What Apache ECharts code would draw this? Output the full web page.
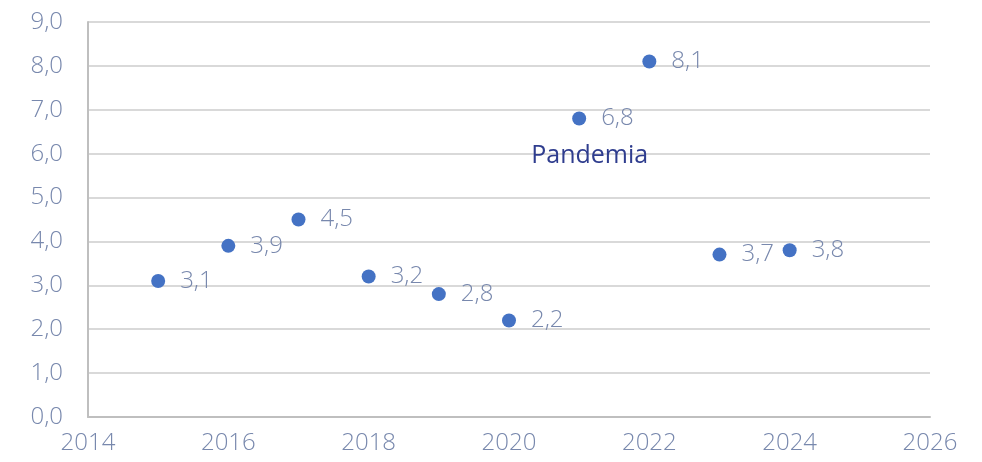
<!DOCTYPE html>
<html><head><meta charset="utf-8">
<script src="https://cdn.jsdelivr.net/npm/echarts@6/dist/echarts.min.js"></script>
<style>html,body{margin:0;padding:0;background:#fff}#c{width:982px;height:462px}</style>
</head><body><div id="c"></div>
<script>
const years = [2015, 2016, 2017, 2018, 2019, 2020, 2021, 2022, 2023, 2024];
const values = [3.1, 3.9, 4.5, 3.2, 2.8, 2.2, 6.8, 8.1, 3.7, 3.8];
const annotationText = 'Pandemia';
const annotationCoord = [2021.15, 5.95];

const fmt = v => v.toFixed(1).replace('.', ',');
const txt = '#7888ad';
const font = 'Open Sans';
const fw = 300;

const chart = echarts.init(document.getElementById('c'));
chart.setOption({
  animation: false,
  grid: { left: 88, right: 52, top: 22, bottom: 45 },
  xAxis: {
    type: 'value', min: 2014, max: 2026, interval: 2,
    axisLine: { show: true, lineStyle: { color: '#bfbfbf', width: 2 } },
    axisTick: { show: false },
    splitLine: { show: false },
    axisLabel: { color: txt, fontSize: 24, fontFamily: font, fontWeight: fw, margin: 14, formatter: v => String(v) }
  },
  yAxis: {
    type: 'value', min: 0, max: 9, interval: 1,
    axisLine: { show: true, lineStyle: { color: '#bfbfbf', width: 2 } },
    axisTick: { show: false },
    splitLine: { show: true, lineStyle: { color: '#d9d9d9', width: 2 } },
    axisLabel: { color: txt, fontSize: 24, fontFamily: font, fontWeight: fw, margin: 25, formatter: v => fmt(v) }
  },
  series: [{
    type: 'scatter',
    data: years.map((y, i) => [y, values[i]]),
    symbolSize: 14,
    itemStyle: { color: '#4472c4', opacity: 1 },
    label: {
      show: true, position: 'right', distance: 15,
      color: txt, fontSize: 24, fontFamily: font, fontWeight: fw,
      formatter: p => fmt(p.value[1])
    },
    markPoint: {
      symbol: 'circle', symbolSize: 0,
      data: [{ coord: annotationCoord, value: annotationText }],
      label: { show: true, position: 'inside', formatter: annotationText, color: '#2f3d8e', fontSize: 25, fontFamily: font, fontWeight: 400 }
    }
  }]
});
</script></body></html>
